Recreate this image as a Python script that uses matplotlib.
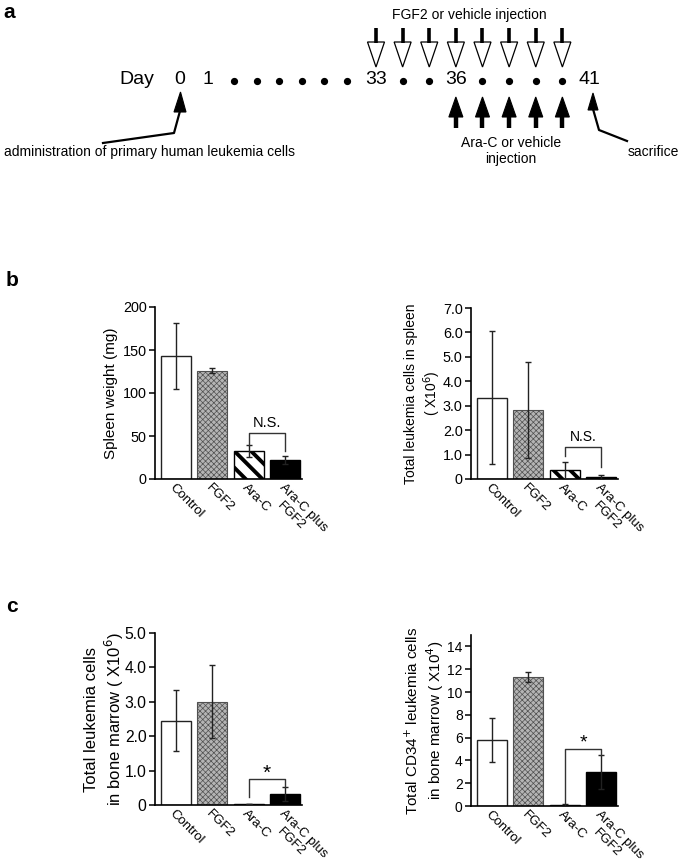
import numpy as np
import matplotlib
matplotlib.use("Agg")
import matplotlib.pyplot as plt
from matplotlib.patches import Polygon

plt.rcParams['font.family'] = ['Liberation Sans', 'DejaVu Sans']

W, H = 685, 866

# ---- data ----
groups = ['Control', 'FGF2', 'Ara-C', 'Ara-C plus\nFGF2']

spleen_weight = [143, 126, 33, 22]
spleen_weight_err = [38, 3, 7, 5]

spleen_cells = [3.33, 2.82, 0.35, 0.08]
spleen_cells_err = [2.72, 1.95, 0.35, 0.10]

marrow_cells = [2.45, 3.0, 0.02, 0.32]
marrow_cells_err = [0.89, 1.06, 0.0, 0.21]

marrow_cd34 = [5.8, 11.3, 0.08, 3.0]
marrow_cd34_err = [1.9, 0.45, 0.10, 1.5]

# significance brackets: left leg end, top, right leg end, label height
spleen_weight_sig = [40, 53.5, 32, 65]
spleen_cells_sig = [0.95, 1.3, 0.5, 1.72]
marrow_cells_sig = [0.23, 0.76, 0.53, 0.93]
marrow_cd34_sig = [0.25, 5.0, 4.5, 5.5]

# timeline
day_labels = [0, 1, 33, 36, 41]
gap_days = [34, 35, 37, 38, 39, 40]
fgf2_days = [33, 34, 35, 36, 37, 38, 39, 40]
arac_days = [36, 37, 38, 39, 40]

fig = plt.figure(figsize=(W / 100, H / 100), dpi=100)


def day_x(d):
    # day 1..33 is drawn compressed as an ellipsis
    return np.interp(d, [0, 1, 33, 41], [180, 208, 376, 589])


# ---- panel a: schedule ----
ax0 = fig.add_axes([0, 1 - 180 / H, 1, 180 / H])
ax0.set_xlim(0, W)
ax0.set_ylim(180, 0)
ax0.axis('off')

ty = 80
ax0.text(137, ty, 'Day', ha='center', va='center', fontsize=14)
for d in day_labels:
    ax0.text(day_x(d), ty, str(d), ha='center', va='center', fontsize=14)
dots = list(np.linspace(234, 347, 6)) + [day_x(d) for d in gap_days]
ax0.plot(dots, [ty + 1] * len(dots), 'o', ms=4.2, color='k')

for d in fgf2_days:
    x = day_x(d)
    ax0.plot([x, x], [28, 43], color='k', lw=2.6, solid_capstyle='butt')
    ax0.add_patch(Polygon([(x - 8.5, 42), (x + 8.5, 42), (x, 67)],
                          facecolor='white', edgecolor='k', lw=0.9))
ax0.text(469, 15, 'FGF2 or vehicle injection', ha='center', va='center', fontsize=10)

for d in arac_days:
    x = day_x(d)
    ax0.plot([x, x], [115, 128], color='k', lw=3.2, solid_capstyle='butt')
    ax0.add_patch(Polygon([(x - 7, 117), (x + 7, 117), (x, 97)],
                          facecolor='k', edgecolor='k', lw=0.8))
ax0.text(511, 151, 'Ara-C or vehicle\ninjection', ha='center', va='center',
         fontsize=10, linespacing=1.15)

x0 = day_x(0)
ax0.add_patch(Polygon([(x0 - 6, 112), (x0 + 6, 112), (x0 + 0.5, 92)],
                      facecolor='k', edgecolor='k', lw=0.8))
ax0.plot([x0, x0 - 6, 103], [111, 133, 143], color='k', lw=1.6)
ax0.text(4, 152, 'administration of primary human leukemia cells', ha='left',
         va='center', fontsize=10)

xs = day_x(41) + 4
ax0.add_patch(Polygon([(xs - 5, 110), (xs + 5, 110), (xs, 93)],
                      facecolor='k', edgecolor='k', lw=0.8))
ax0.plot([xs, xs + 6, 627], [109, 130, 141], color='k', lw=1.6)
ax0.text(628, 152, 'sacrifice', ha='left', va='center', fontsize=10)

ax0.text(3, 12, 'a', ha='left', va='center', fontsize=15, fontweight='bold')
fig.text(6 / W, 1 - 281 / H, 'b', ha='left', va='center', fontsize=15, fontweight='bold')
fig.text(6 / W, 1 - 607 / H, 'c', ha='left', va='center', fontsize=15, fontweight='bold')


# ---- bar panels ----
def px_axes(left, right, top, bottom):
    return fig.add_axes([left / W, 1 - bottom / H, (right - left) / W, (bottom - top) / H])


def bar_panel(ax, values, errs, ymax, yticks, ylabel, label_x, sig, sig_text, sig_size,
              tick_fs=10, label_fs=10):
    x = np.arange(len(groups))
    bars = ax.bar(x, values, width=0.82, zorder=2)
    styles = [
        dict(facecolor='white', edgecolor='#222222', hatch=None, hlw=1.0, lw=1.0),
        dict(facecolor='#b4b4b4', edgecolor='#505050', hatch='xxxxxx', hlw=0.5, lw=0.8),
        dict(facecolor='white', edgecolor='black', hatch='\\\\', hlw=2.8, lw=1.0),
        dict(facecolor='black', edgecolor='black', hatch=None, hlw=1.0, lw=1.0),
    ]
    for b, st in zip(bars, styles):
        b.set_facecolor(st['facecolor'])
        b.set_edgecolor(st['edgecolor'])
        b.set_linewidth(st['lw'])
        if st['hatch']:
            b.set_hatch(st['hatch'])
            if hasattr(b, 'set_hatch_linewidth'):
                b.set_hatch_linewidth(st['hlw'])
    ax.errorbar(x, values, yerr=errs, fmt='none', ecolor='#222222',
                elinewidth=1.0, capsize=2.5, capthick=1.0, zorder=3)

    yl, yt, yr, ylab = sig
    ax.plot([2, 2, 3, 3], [yl, yt, yt, yr], color='#333333', lw=1.0, zorder=4)
    ax.text(2.5, ylab, sig_text, ha='center', va='center', fontsize=sig_size)

    ax.set_xlim(-0.57, 3.46)
    ax.set_ylim(0, ymax)
    ax.set_yticks(yticks)
    ax.set_yticklabels(['0' if t == 0 else (f'{t:.1f}' if isinstance(t, float) else str(t))
                        for t in yticks])
    # rotated group names; extra lines drawn as separate texts so they stay tight
    first_lines = [g.split('\n')[0] for g in groups]
    ax.set_xticks(x)
    ax.set_xticklabels(first_lines, rotation=-45, ha='left', va='top',
                       rotation_mode='anchor')
    for i, g in enumerate(groups):
        parts = g.split('\n')
        for k, extra in enumerate(parts[1:], start=1):
            ax.annotate(extra, xy=(x[i], 0), xycoords=('data', 'axes fraction'),
                        xytext=(-1.5, -2 - 12.7 * k), textcoords='offset points',
                        rotation=-45, ha='left', va='top', rotation_mode='anchor',
                        fontsize=9.5, annotation_clip=False)
    for s in ['top', 'right']:
        ax.spines[s].set_visible(False)
    for s in ['left', 'bottom']:
        ax.spines[s].set_linewidth(1.2)
    ax.tick_params(axis='y', length=4, width=1.1, labelsize=tick_fs, pad=2)
    ax.tick_params(axis='x', length=0, labelsize=9.5, pad=2)
    ax.set_ylabel(ylabel, fontsize=label_fs, linespacing=1.2)
    ax.yaxis.set_label_coords(label_x, 0.5)
    ax.patch.set_alpha(0)


ax1 = px_axes(155, 302, 307, 479)
bar_panel(ax1, spleen_weight, spleen_weight_err, 200, [0, 50, 100, 150, 200],
          'Spleen weight (mg)', -0.25, spleen_weight_sig, 'N.S.', 10.5,
          tick_fs=10.4, label_fs=11)

ax2 = px_axes(471, 618, 308, 479)
bar_panel(ax2, spleen_cells, spleen_cells_err, 7.0,
          [0, 1.0, 2.0, 3.0, 4.0, 5.0, 6.0, 7.0],
          'Total leukemia cells in spleen\n( X10$^{6}$)', -0.19,
          spleen_cells_sig, 'N.S.', 10, tick_fs=10.4, label_fs=10)

ax3 = px_axes(155, 302, 633, 805)
bar_panel(ax3, marrow_cells, marrow_cells_err, 5.0, [0, 1.0, 2.0, 3.0, 4.0, 5.0],
          'Total leukemia cells\nin bone marrow ( X10$^{6}$)', -0.2,
          marrow_cells_sig, '*', 15, tick_fs=11.3, label_fs=12)

ax4 = px_axes(471, 618, 635, 806)
bar_panel(ax4, marrow_cd34, marrow_cd34_err, 15, [0, 2, 4, 6, 8, 10, 12, 14],
          'Total CD34$^{+}$ leukemia cells\nin bone marrow ( X10$^{4}$)', -0.17,
          marrow_cd34_sig, '*', 14, tick_fs=10, label_fs=11)

fig.savefig('out.png', dpi=100)
